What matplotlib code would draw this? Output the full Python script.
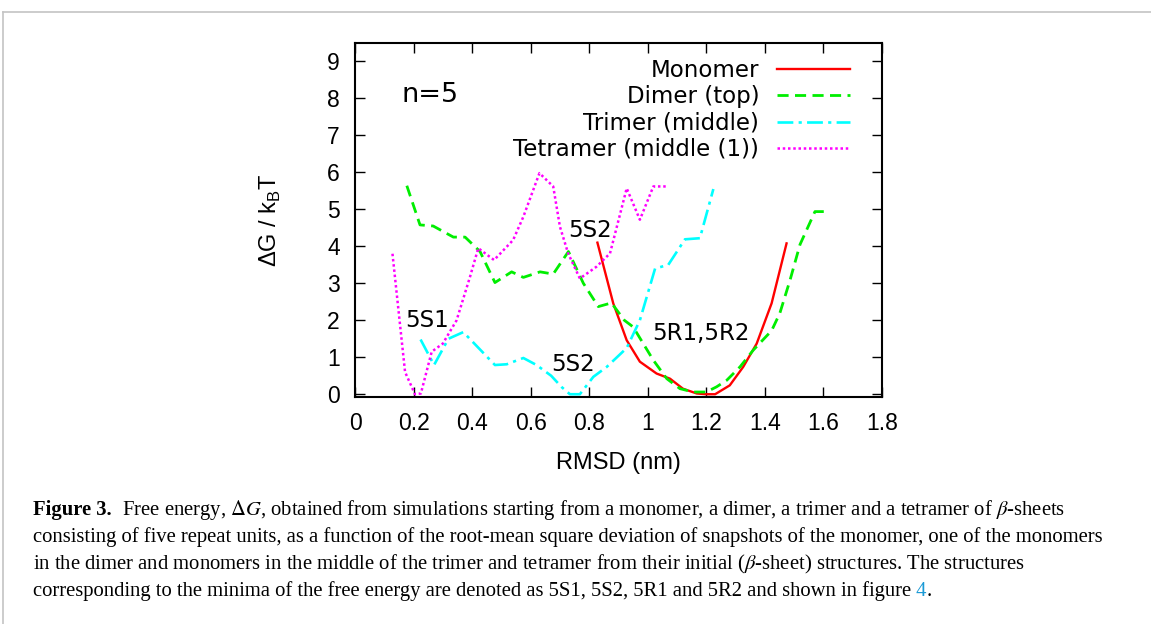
import matplotlib
matplotlib.use("Agg")
import matplotlib.pyplot as plt
from matplotlib.lines import Line2D

# Free energy curves (RMSD in nm, dG in kBT)
mono_x = [0.828, 0.882, 0.928, 0.973, 1.03, 1.076, 1.12, 1.167, 1.2, 1.23,
          1.28, 1.326, 1.372, 1.423, 1.474]
mono_y = [4.1, 2.46, 1.46, 0.88, 0.56, 0.42, 0.15, 0.02, 0.0, 0.0,
          0.24, 0.74, 1.37, 2.46, 4.08]

dimer_x = [0.177, 0.222, 0.267, 0.336, 0.376, 0.427, 0.478, 0.535, 0.575,
           0.632, 0.677, 0.729, 0.78, 0.831, 0.876, 0.92, 0.95, 1.019, 1.065,
           1.11, 1.155, 1.2, 1.235, 1.27, 1.315, 1.36, 1.423, 1.451, 1.486,
           1.52, 1.571, 1.617]
dimer_y = [5.64, 4.58, 4.55, 4.25, 4.25, 3.86, 3.02, 3.31, 3.16,
           3.31, 3.25, 3.86, 3.0, 2.37, 2.47, 2.0, 1.82, 0.92, 0.42,
           0.15, 0.06, 0.06, 0.2, 0.38, 0.74, 1.19, 1.72, 2.19, 3.09,
           4.05, 4.94, 4.94]

trimer_x = [0.224, 0.27, 0.319, 0.37, 0.478, 0.518, 0.575, 0.62, 0.67,
            0.705, 0.734, 0.768, 0.814, 0.86, 0.928, 0.973, 1.025, 1.07,
            1.127, 1.178, 1.224]
trimer_y = [1.48, 0.79, 1.5, 1.68, 0.79, 0.81, 0.98, 0.79, 0.5,
            0.2, 0.0, 0.0, 0.47, 0.74, 1.25, 2.0, 3.4, 3.5,
            4.19, 4.22, 5.55]

tetra_x = [0.128, 0.171, 0.205, 0.225, 0.262, 0.30, 0.347, 0.393, 0.421,
           0.475, 0.54, 0.575, 0.63, 0.677, 0.70, 0.728, 0.768, 0.825,
           0.871, 0.928, 0.973, 1.019, 1.07]
tetra_y = [3.8, 0.6, 0.0, 0.02, 1.15, 1.37, 2.0, 3.18, 3.95,
           3.63, 4.17, 4.8, 5.98, 5.62, 4.53, 3.81, 3.13, 3.45,
           3.81, 5.57, 4.72, 5.62, 5.62]

series_names = ["Monomer", "Dimer (top)", "Trimer (middle)", "Tetramer (middle (1))"]

xticks = [0, 0.2, 0.4, 0.6, 0.8, 1.0, 1.2, 1.4, 1.6, 1.8]
xtick_labels = ["0", "0.2", "0.4", "0.6", "0.8", "1", "1.2", "1.4", "1.6", "1.8"]
yticks = list(range(10))

# minima labels: (text, x, y)
minima_labels = [("5S1", 0.246, 2.0), ("5S2", 0.803, 4.44),
                 ("5S2", 0.744, 0.81), ("5R1,5R2", 1.18, 1.64)]

caption_lines = [
    "  Free energy, $\\Delta G$, obtained from simulations starting from a monomer, "
    "a dimer, a trimer and a tetramer of $\\beta$-sheets",
    "consisting of five repeat units, as a function of the root-mean square deviation "
    "of snapshots of the monomer, one of the monomers",
    "in the dimer and monomers in the middle of the trimer and tetramer from their "
    "initial ($\\beta$-sheet) structures. The structures",
    "corresponding to the minima of the free energy are denoted as 5S1, 5S2, 5R1 "
    "and 5R2 and shown in figure",
]

W, H = 1151, 624
plt.rcParams['font.family'] = ['Liberation Sans', 'DejaVu Sans']

fig = plt.figure(figsize=(W / 100, H / 100), dpi=100)
fig.patch.set_facecolor("white")

# grey page frame
fig.add_artist(Line2D([3 / W, 1], [1 - 12 / H, 1 - 12 / H], color="#c4c4c4", lw=1.2))
fig.add_artist(Line2D([3 / W, 3 / W], [0, 1 - 12 / H], color="#c4c4c4", lw=1.2))

ax = fig.add_axes([355 / W, 1 - 397 / H, 527 / W, 354 / H])

ax.plot(mono_x, mono_y, color="#ff0000", lw=1.7, label=series_names[0])
ax.plot(dimer_x, dimer_y, color="#00ee00", lw=2.0, ls=(0, (4.0, 2.3)), label=series_names[1])
ax.plot(trimer_x, trimer_y, color="#00ffff", lw=1.9, ls=(0, (6, 2, 1.2, 2)), label=series_names[2])
ax.plot(tetra_x, tetra_y, color="#ff00ff", lw=1.8, ls=(0, (1, 1.1)), label=series_names[3])

ax.set_xlim(0, 1.8)
ax.set_ylim(-0.075, 9.5)
ax.set_xticks(xticks)
ax.set_xticklabels(xtick_labels)
ax.set_yticks(yticks)
ax.tick_params(direction="in", length=7.5, width=1.0, top=True, right=True,
               labelsize=16.5)
ax.tick_params(axis="x", pad=11)
ax.tick_params(axis="y", pad=11)
for sp in ax.spines.values():
    sp.set_linewidth(1.5)

ax.set_xlabel("RMSD (nm)", fontsize=17, va="center")
ax.xaxis.set_label_coords(0.5, -0.186)
ax.set_ylabel("ΔG / k$_\\mathregular{B}$T", fontsize=17, va="center", ha="center")
ax.yaxis.set_label_coords(-0.161, 0.5)

ax.text(0.16, 8.1, "n=5", family="DejaVu Sans", fontsize=19.5, va="center", ha="left")
for txt, x, y in minima_labels:
    ax.text(x, y, txt, family="DejaVu Sans", fontsize=16.5, va="center", ha="center")

leg = ax.legend(loc="upper right", bbox_to_anchor=(0.939, 0.954), frameon=False,
                markerfirst=False, handlelength=3.2, handletextpad=0.75,
                labelspacing=0.14, borderpad=0, borderaxespad=0,
                prop={"family": "DejaVu Sans", "size": 16.5})

# caption, line by line
renderer = fig.canvas.get_renderer()
cap_size = 14.9
cap_kw = dict(family="Liberation Serif", fontsize=cap_size, va="center", ha="left",
              math_fontfamily="stix")
ys = [510, 537, 564, 591]

t = fig.text(33 / W, 1 - ys[0] / H, "Figure 3.", fontweight="bold", **cap_kw)
x = 33 + t.get_window_extent(renderer).width
fig.text(x / W, 1 - ys[0] / H, caption_lines[0], **cap_kw)
fig.text(33 / W, 1 - ys[1] / H, caption_lines[1], **cap_kw)
fig.text(33 / W, 1 - ys[2] / H, caption_lines[2], **cap_kw)
t = fig.text(33 / W, 1 - ys[3] / H, caption_lines[3], **cap_kw)
x = 33 + t.get_window_extent(renderer).width
t = fig.text(x / W, 1 - ys[3] / H, " 4", color="#1a9ad6", **cap_kw)
x += t.get_window_extent(renderer).width
fig.text(x / W, 1 - ys[3] / H, ".", **cap_kw)

fig.savefig("out.png", dpi=100)
